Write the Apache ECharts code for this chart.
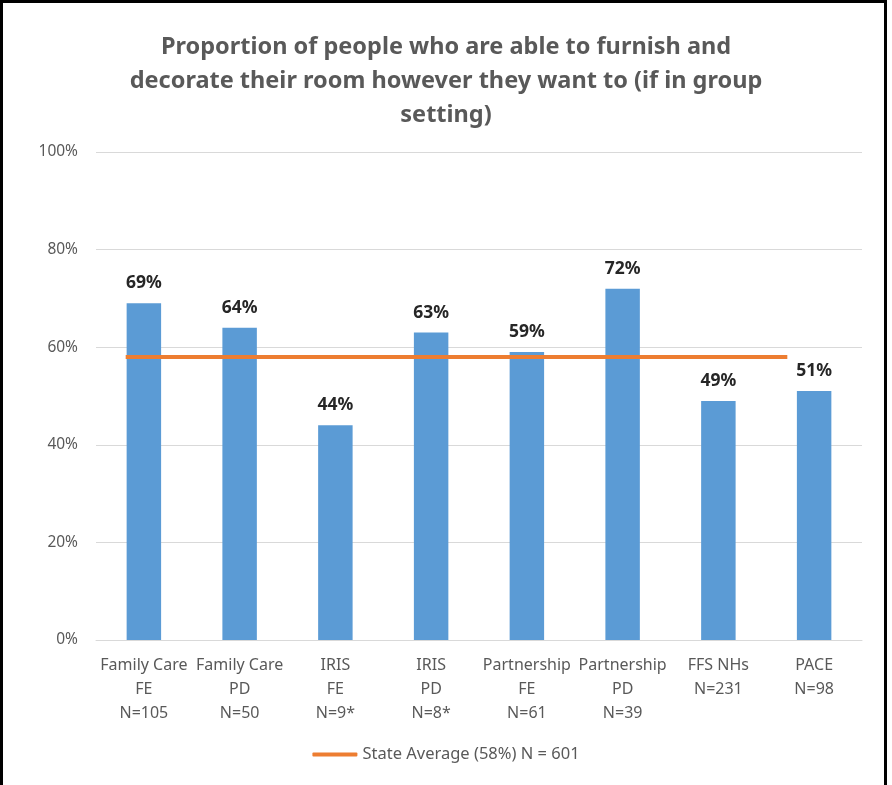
<!DOCTYPE html>
<html>
<head>
<meta charset="utf-8">
<script src="https://cdn.jsdelivr.net/npm/echarts@6/dist/echarts.min.js"></script>
<style>
  html, body { margin: 0; padding: 0; background: #fff; }
  #frame { position: absolute; left: 0; top: 0; width: 881px; height: 790px; border: 3px solid #000; border-bottom: none; }
  #chart { position: absolute; left: 0; top: 0; width: 892px; height: 785px; }
</style>
</head>
<body>
<div id="frame"></div>
<div id="chart"></div>
<script>
// Programs and sample sizes
const categories = [
  'Family Care\nFE\nN=105',
  'Family Care\nPD\nN=50',
  'IRIS\nFE\nN=9*',
  'IRIS\nPD\nN=8*',
  'Partnership\nFE\nN=61',
  'Partnership\nPD\nN=39',
  'FFS NHs\nN=231',
  'PACE\nN=98'
];
// Percent able to furnish and decorate their room
const values = [69, 64, 44, 63, 59, 72, 49, 51];
// State average, drawn as a flat line across the programs
const stateAverage = 58;
const stateAverageSpan = [0.31, 7.22]; // start / end along the category axis (category units)
const yTicks = [0, 20, 40, 60, 80, 100];

const chart = echarts.init(document.getElementById('chart'));
const font = 'Noto Sans, Open Sans, sans-serif';
chart.setOption({
  animation: false,
  title: {
    text: 'Proportion of people who are able to furnish and\ndecorate their room however they want to (if in group\nsetting)',
    left: 'center',
    top: 25,
    textStyle: { fontFamily: font, fontSize: 23.5, fontWeight: 'bold', color: '#595959', lineHeight: 34 }
  },
  legend: {
    bottom: 17,
    left: 'center',
    itemWidth: 45,
    itemHeight: 4,
    itemGap: 4,
    data: [{ name: 'State Average (58%) N = 601', icon: 'roundRect' }],
    textStyle: { fontFamily: font, fontSize: 16.5, color: '#595959' }
  },
  grid: { left: 96, right: 30, top: 152, bottom: 145 },
  xAxis: [
    {
      type: 'category',
      data: categories,
      axisLine: { lineStyle: { color: '#d9d9d9' } },
      axisTick: { show: false },
      axisLabel: { fontFamily: font, fontSize: 16, color: '#595959', lineHeight: 24, margin: 13, interval: 0 }
    },
    { type: 'value', min: 0, max: categories.length, show: false }
  ],
  yAxis: {
    type: 'value',
    min: yTicks[0],
    max: yTicks[yTicks.length - 1],
    interval: 20,
    axisLine: { show: false },
    axisTick: { show: false },
    splitLine: { lineStyle: { color: '#d9d9d9', width: 1 } },
    axisLabel: { fontFamily: font, fontSize: 15.5, color: '#595959', margin: 18, formatter: '{value}%' }
  },
  series: [
    {
      type: 'bar',
      data: values,
      barWidth: '36%',
      itemStyle: { color: '#5B9BD5' },
      label: {
        show: true,
        position: 'top',
        distance: 11,
        formatter: '{c}%',
        fontFamily: font,
        fontSize: 17.5,
        fontWeight: 'bold',
        color: '#262626'
      }
    },
    {
      name: 'State Average (58%) N = 601',
      type: 'line',
      xAxisIndex: 1,
      data: stateAverageSpan.map(x => [x, stateAverage]),
      symbol: 'none',
      lineStyle: { color: '#ED7D31', width: 4 },
      itemStyle: { color: '#ED7D31' },
      z: 5
    }
  ]
});
</script>
</body>
</html>
